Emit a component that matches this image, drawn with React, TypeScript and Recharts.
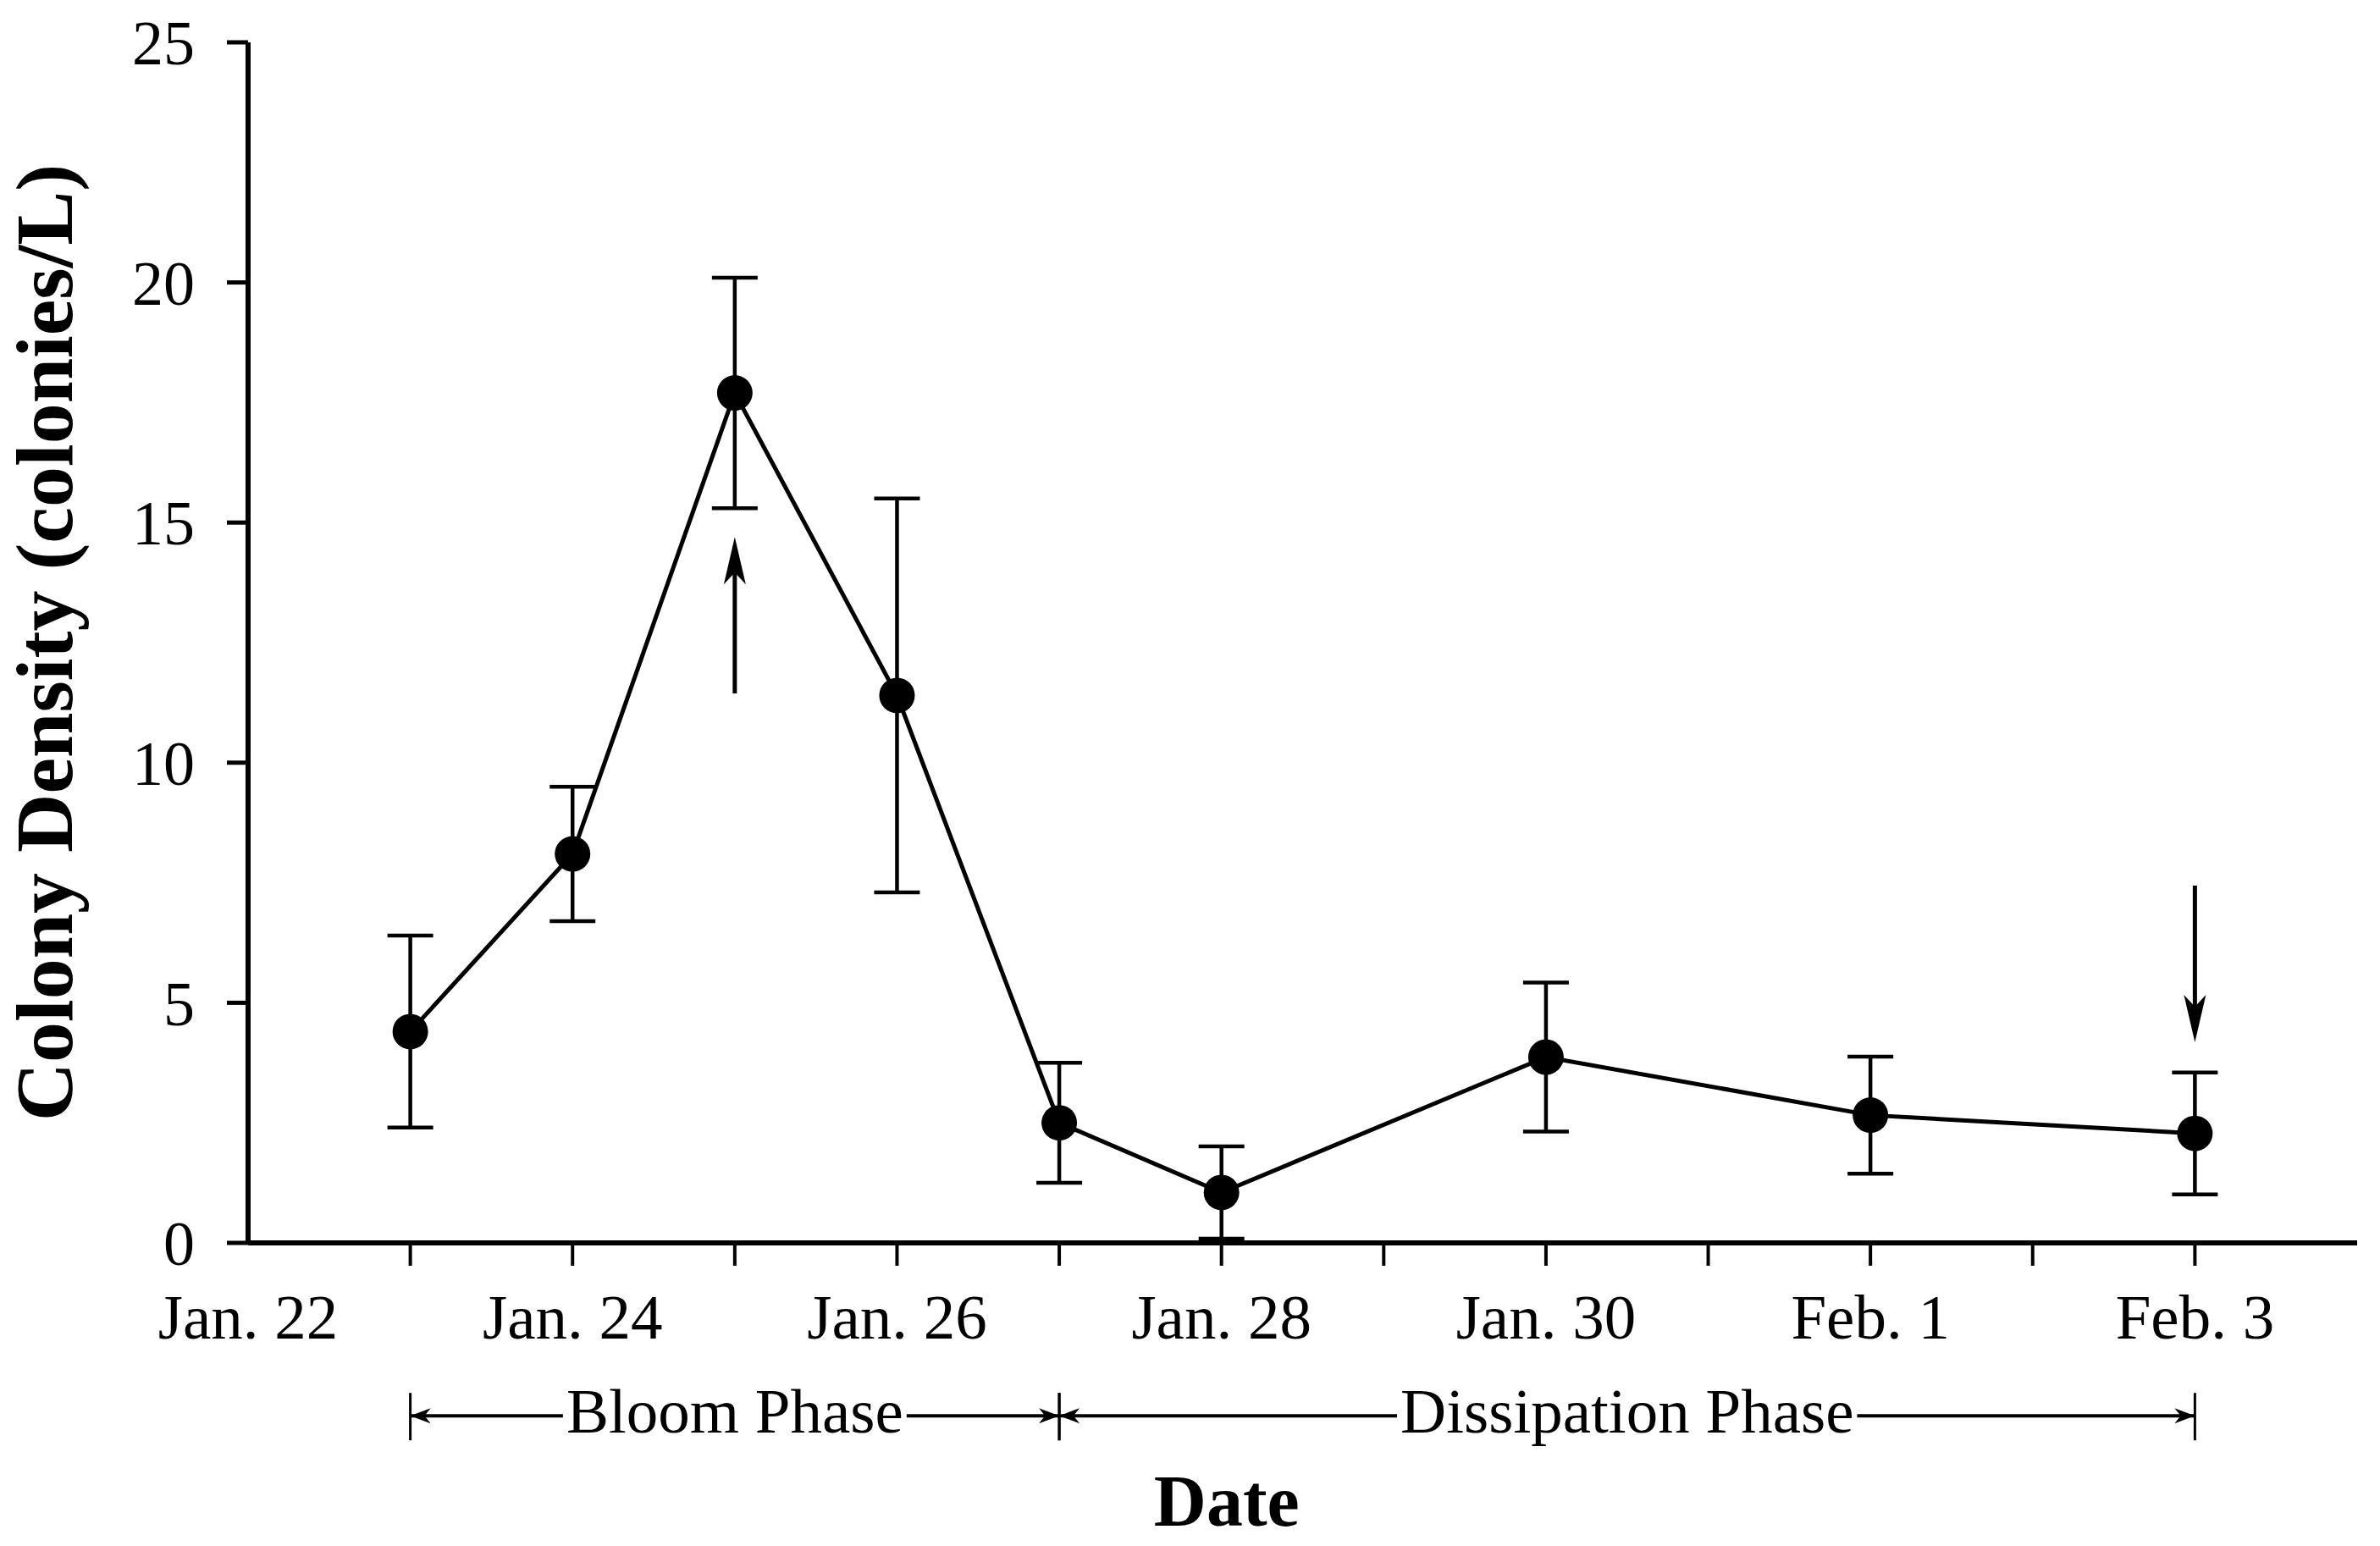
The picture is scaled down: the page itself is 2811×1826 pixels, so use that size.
import React, { useLayoutEffect, useRef, useState } from 'react';
import { LineChart, Line, XAxis, YAxis, ErrorBar, ReferenceLine, Label } from 'recharts';

// days counted from Jan. 22
const sampleDays = [1, 2, 3, 4, 5, 6, 8, 10, 12];
const density = [4.4, 8.1, 17.7, 11.4, 2.5, 1.05, 3.87, 2.66, 2.28];
const stdErr = [2.0, 1.4, 2.4, 4.1, 1.25, 0.96, 1.55, 1.22, 1.27];

const xTicks = [0, 1, 2, 3, 4, 5, 6, 7, 8, 9, 10, 11, 12];
const xTickLabels: Record<number, string> = {
  0: 'Jan. 22',
  2: 'Jan. 24',
  4: 'Jan. 26',
  6: 'Jan. 28',
  8: 'Jan. 30',
  10: 'Feb. 1',
  12: 'Feb. 3',
};
const yTicks = [0, 5, 10, 15, 20, 25];

const phaseNames = ['Bloom Phase', 'Dissipation Phase'];
const phaseStart = [1, 5];
const phaseEnd = [5, 12];
const phaseLevel = -3.6;

// vertical arrows: [day, tail value, tip value]
const arrows = [
  [3, 11.44, 14.7],
  [12, 7.44, 4.18],
];

const data = sampleDays.map((d, i) => ({ day: d, density: density[i], err: stdErr[i] }));

const FONT = '"Liberation Serif", "Times New Roman", serif';

const XTick = (props: any) => {
  const { x, y, payload } = props;
  const v = payload.value;
  const label = xTickLabels[v];
  return (
    <g>
      {v !== 0 && <line x1={x} y1={y - 61} x2={x} y2={y - 33} stroke="#000" strokeWidth={4} />}
      {label && (
        <text x={x} y={y + 53} textAnchor="middle" fontFamily={FONT} fontSize={75} fill="#000">
          {label}
        </text>
      )}
    </g>
  );
};

const VArrow = (props: any) => {
  const { x1, y1, x2, y2 } = props;
  const dir = y2 > y1 ? 1 : -1;
  const headLen = 56;
  const half = 13;
  const back = y2 - dir * headLen;
  const notch = y2 - dir * headLen * 0.75;
  return (
    <g>
      <line x1={x1} y1={y1} x2={x2} y2={notch} stroke="#000" strokeWidth={5} />
      <path d={`M${x2},${y2} L${x2 - half},${back} L${x2},${notch} L${x2 + half},${back} Z`} fill="#000" />
    </g>
  );
};

const PhaseSpan = ({ x1, x2, y, name }: { x1: number; x2: number; y: number; name: string }) => {
  const ref = useRef<SVGTextElement>(null);
  const [w, setW] = useState(0);
  useLayoutEffect(() => {
    if (ref.current) setW(ref.current.getBBox().width);
  }, [name]);
  const cx = (x1 + x2) / 2;
  const gap = 4;
  const a = 24;
  const h = 9;
  return (
    <g>
      <line x1={x1} y1={y} x2={cx - w / 2 - gap} y2={y} stroke="#000" strokeWidth={4} />
      <line x1={cx + w / 2 + gap} y1={y} x2={x2} y2={y} stroke="#000" strokeWidth={4} />
      <line x1={x1} y1={y - 27} x2={x1} y2={y + 29} stroke="#000" strokeWidth={3} />
      <line x1={x2} y1={y - 27} x2={x2} y2={y + 29} stroke="#000" strokeWidth={3} />
      <path d={`M${x1},${y} L${x1 + a},${y - h} L${x1 + a * 0.7},${y} L${x1 + a},${y + h} Z`} fill="#000" />
      <path d={`M${x2},${y} L${x2 - a},${y - h} L${x2 - a * 0.7},${y} L${x2 - a},${y + h} Z`} fill="#000" />
      <text ref={ref} x={cx} y={y + 20} textAnchor="middle" fontFamily={FONT} fontSize={75} fill="#000">
        {name}
      </text>
    </g>
  );
};

const makePhase = (name: string) => (props: any) => (
  <PhaseSpan x1={props.x1} x2={props.x2} y={props.y1} name={name} />
);

export default function App() {
  return (
    <div style={{ position: 'absolute', left: 0, top: 0, background: '#fff' }}>
      <LineChart width={2811} height={1826} data={data} margin={{ top: 50, right: 27, bottom: 0, left: 0 }}>
        <XAxis
          dataKey="day"
          type="number"
          domain={[0, 13]}
          ticks={xTicks}
          interval={0}
          height={358}
          tickSize={28}
          tickMargin={32}
          tickLine={false}
          tick={<XTick />}
          axisLine={{ stroke: '#000', strokeWidth: 6 }}
          label={
            <Label
              content={(p: any) => {
                const vb = p.viewBox;
                return (
                  <text
                    x={vb.x + vb.width * 0.464}
                    y={vb.y + 334}
                    textAnchor="middle"
                    fontFamily={FONT}
                    fontWeight="bold"
                    fontSize={86}
                    fill="#000"
                  >
                    Date
                  </text>
                );
              }}
            />
          }
        />
        <YAxis
          type="number"
          domain={[0, 25]}
          ticks={yTicks}
          interval={0}
          width={293}
          tickSize={25}
          tickMargin={38}
          tick={{ fontFamily: FONT, fontSize: 74, fill: '#000' }}
          tickLine={{ stroke: '#000', strokeWidth: 5 }}
          axisLine={{ stroke: '#000', strokeWidth: 6 }}
          label={
            <Label
              content={(p: any) => {
                const vb = p.viewBox;
                const cx = vb.x + 85;
                const cy = vb.y + vb.height / 2;
                return (
                  <text
                    x={cx}
                    y={cy}
                    transform={`rotate(-90 ${cx} ${cy})`}
                    textAnchor="middle"
                    fontFamily={FONT}
                    fontWeight="bold"
                    fontSize={96}
                    fill="#000"
                  >
                    Colony Density (colonies/L)
                  </text>
                );
              }}
            />
          }
        />
        <Line
          dataKey="density"
          stroke="#000"
          strokeWidth={5}
          dot={{ r: 21, fill: '#000', stroke: '#000', strokeWidth: 0 }}
          isAnimationActive={false}
        >
          <ErrorBar dataKey="err" direction="y" width={27} stroke="#000" strokeWidth={4.5} isAnimationActive={false} />
        </Line>
        {arrows.map(([d, from, to], i) => (
          <ReferenceLine
            key={`arrow-${i}`}
            segment={[{ x: d, y: from }, { x: d, y: to }]}
            ifOverflow="visible"
            shape={VArrow}
          />
        ))}
        {phaseNames.map((name, i) => (
          <ReferenceLine
            key={`phase-${i}`}
            segment={[{ x: phaseStart[i], y: phaseLevel }, { x: phaseEnd[i], y: phaseLevel }]}
            ifOverflow="visible"
            shape={makePhase(name)}
          />
        ))}
      </LineChart>
    </div>
  );
}
